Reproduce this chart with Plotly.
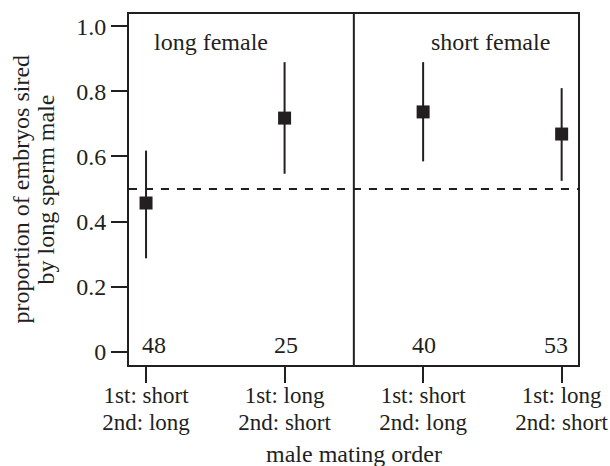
import plotly.graph_objects as go

order_first = ["1st: short", "1st: long", "1st: short", "1st: long"]
order_second = ["2nd: long", "2nd: short", "2nd: long", "2nd: short"]
proportion = [0.457, 0.718, 0.737, 0.669]
ci_upper = [0.618, 0.890, 0.890, 0.810]
ci_lower = [0.287, 0.547, 0.585, 0.525]
counts = ["48", "25", "40", "53"]
count_shift = [8, 1, 1, -6]
panels = ["long female", "short female"]
panel_x = [0.469, 2.484]
y_ticks = [0, 0.2, 0.4, 0.6, 0.8, 1.0]
y_ticklabels = ["0", "0.2", "0.4", "0.6", "0.8", "1.0"]
x_title = "male mating order"
y_title_lines = ["proportion of embryos sired", "by long sperm male"]
reference_line = 0.5

ink = "#231f20"
FONT = "Liberation Serif"
FS = 24
TFS = 23
xs = list(range(len(order_first)))
XR = [-0.123, 3.118]
YR = [-0.041, 1.038]

fig = go.Figure()
fig.add_trace(go.Scatter(
    x=xs, y=proportion, mode="markers",
    marker=dict(symbol="square", size=13, color=ink),
    error_y=dict(type="data", symmetric=False,
                 array=[u - p for u, p in zip(ci_upper, proportion)],
                 arrayminus=[p - l for p, l in zip(proportion, ci_lower)],
                 width=0, thickness=2, color=ink),
    showlegend=False, hoverinfo="skip",
))
# invisible trace so the second-line label axis is drawn
fig.add_trace(go.Scatter(x=xs, y=proportion, xaxis="x2", mode="markers",
                         marker=dict(opacity=0), showlegend=False,
                         hoverinfo="skip"))

# dashed reference line at 0.5
fig.add_shape(type="line", xref="paper", yref="y", x0=0, x1=1,
              y0=reference_line, y1=reference_line,
              line=dict(color=ink, width=2, dash="8px,8px"))
# divider between panels
fig.add_shape(type="line", xref="x", yref="paper", x0=1.5, x1=1.5, y0=0, y1=1,
              line=dict(color=ink, width=2))

for c, x, s in zip(counts, xs, count_shift):
    fig.add_annotation(x=x, y=0.022, text=c, showarrow=False, xshift=s,
                       xanchor="center", yanchor="middle",
                       font=dict(family=FONT, size=FS, color=ink))
for p, x in zip(panels, panel_x):
    fig.add_annotation(x=x, y=0.952, text=p, showarrow=False,
                       xanchor="center", yanchor="middle",
                       font=dict(family=FONT, size=FS, color=ink))

# axis titles
fig.add_annotation(xref="paper", yref="paper", x=0.5, y=0, text=x_title,
                   showarrow=False, xanchor="center", yanchor="middle",
                   yshift=-89, font=dict(family=FONT, size=FS, color=ink))
for line, sh in zip(y_title_lines, [-109, -84]):
    fig.add_annotation(xref="paper", yref="paper", x=0, y=0.5, text=line,
                       showarrow=False, textangle=-90, xanchor="center",
                       yanchor="middle", xshift=sh,
                       font=dict(family=FONT, size=FS, color=ink))

axis_common = dict(showgrid=False, zeroline=False, automargin=False)

fig.update_layout(
    width=610, height=466,
    margin=dict(l=129, r=32, t=14, b=101),
    paper_bgcolor="white", plot_bgcolor="white",
    font=dict(family=FONT, size=FS, color=ink),
    xaxis=dict(range=XR, tickvals=xs, ticktext=order_first,
               showline=True, mirror=True, linecolor=ink, linewidth=2,
               ticks="outside", ticklen=16, tickwidth=2, tickcolor=ink,
               tickfont=dict(family=FONT, size=TFS, color=ink),
               ticklabelstandoff=-8, ticklabeloverflow="allow", **axis_common),
    xaxis2=dict(range=XR, tickvals=xs, ticktext=order_second,
                overlaying="x", anchor="y", side="bottom",
                showline=False, ticks="outside", ticklen=16, tickwidth=2,
                tickcolor="rgba(0,0,0,0)",
                tickfont=dict(family=FONT, size=TFS, color=ink),
                ticklabelstandoff=20, ticklabeloverflow="allow", **axis_common),
    yaxis=dict(range=YR, tickvals=y_ticks, ticktext=y_ticklabels,
               showline=True, mirror=True, linecolor=ink, linewidth=2,
               ticks="outside", ticklen=16, tickwidth=2, tickcolor=ink,
               tickfont=dict(family=FONT, size=FS, color=ink),
               **axis_common),
)

# remove the page's default body margin so the 610x466 figure fills the window
fig.write_html("out.html",
               config={"displayModeBar": False},
               post_script="document.body.style.margin='0';"
                           "document.body.style.overflow='hidden';")
